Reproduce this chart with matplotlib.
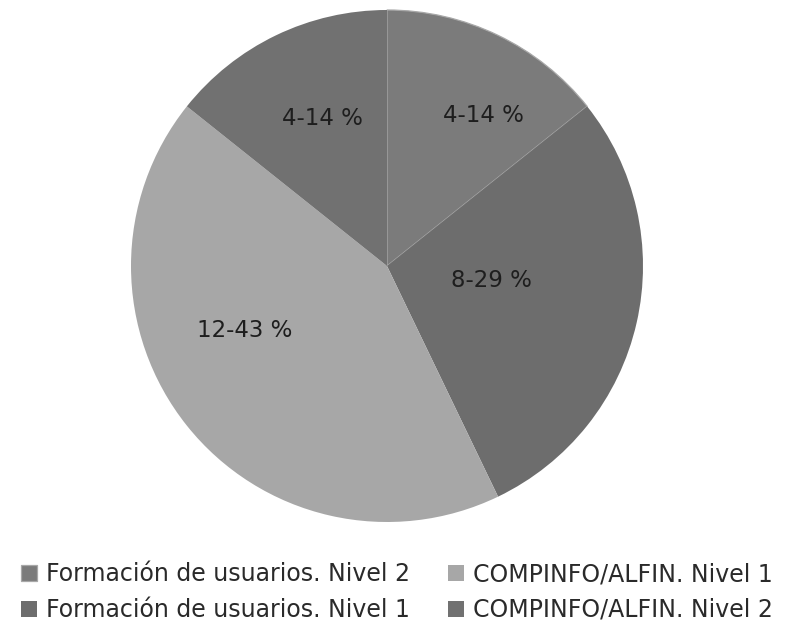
import matplotlib.pyplot as plt
import numpy as np

# slice values (counts) and the labels shown on the slices
categories = ["Formación de usuarios. Nivel 2", "Formación de usuarios. Nivel 1",
              "COMPINFO/ALFIN. Nivel 1", "COMPINFO/ALFIN. Nivel 2"]
counts = [4, 8, 12, 4]
percents = [14, 29, 43, 14]
colors = ["#7b7b7b", "#6d6d6d", "#a7a7a7", "#717171"]

# label placement (fraction of radius, angle shift in degrees) - excel puts them by hand
label_r = [0.70, 0.41, 0.61, 0.63]
label_shift = [-7, 5, -14, -2]

fig = plt.figure(figsize=(7.88, 6.28), dpi=100)
W, H = 788, 628
cx, cy, rad = 387, 266, 256
ax = fig.add_axes([(cx - rad) / W, (H - cy - rad) / H, 2 * rad / W, 2 * rad / H])

wedges, _ = ax.pie(counts, colors=colors, startangle=90, counterclock=False,
                   radius=1, wedgeprops=dict(linewidth=0))
wedges[0].set_edgecolor("#a8a8a8")
wedges[0].set_linewidth(0.9)

for w, n, p, r, s in zip(wedges, counts, percents, label_r, label_shift):
    mid = np.deg2rad((w.theta1 + w.theta2) / 2 + s)
    ax.text(r * np.cos(mid), r * np.sin(mid), f"{n}-{p} %",
            ha="center", va="center", fontsize=16.5, color="#1e1e1e",
            family="DejaVu Sans")

ax.set_xlim(-1, 1)
ax.set_ylim(-1, 1)
ax.axis("off")

leg = fig.legend(wedges, categories, ncol=2, loc="center",
                 bbox_to_anchor=(397 / W, 1 - 592 / H), frameon=False,
                 prop={"family": "DejaVu Sans", "size": 17},
                 handlelength=0.68, handleheight=0.68, handletextpad=0.38,
                 columnspacing=1.6, labelspacing=0.5)
for t in leg.get_texts():
    t.set_color("#2a2a2a")

fig.savefig("out.png", dpi=100)
